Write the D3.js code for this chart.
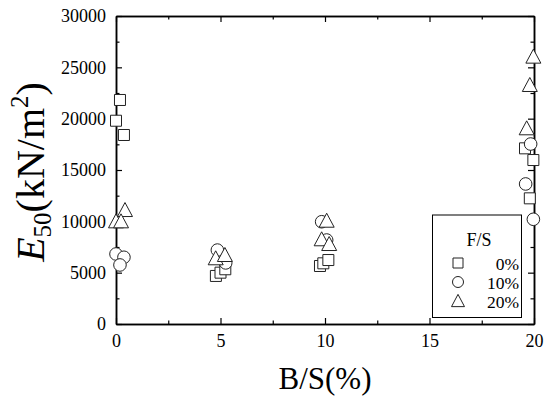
<!DOCTYPE html>
<html>
<head>
<meta charset="utf-8">
<script src="https://cdn.jsdelivr.net/npm/d3@7/dist/d3.min.js"></script>
<style>
  html, body { margin: 0; padding: 0; background: #fff; }
</style>
</head>
<body>
<svg id="chart" width="553" height="396"></svg>
<script>
// Secant modulus E50 against binder content B/S, grouped by fibre content F/S
const fsLabels = ["0%", "10%", "20%"];

const bsFs0 = [0.19, 0, 0.38, 4.78, 5.0, 5.23, 9.76, 9.92, 10.16, 19.57, 19.97, 19.8];
const e50Fs0 = [21820, 19800, 18410, 4680, 5000, 5330, 5650, 5910, 6230, 17110, 15970, 12240];

const bsFs10 = [0, 0.38, 0.19, 4.85, 5.25, 9.84, 10.08, 19.84, 19.6, 19.97];
const e50Fs10 = [6820, 6500, 5750, 7200, 5950, 9960, 8180, 17530, 13640, 10200];

const bsFs20 = [0.43, 0, 0.24, 4.77, 5.21, 10.08, 9.84, 10.2, 19.97, 19.8, 19.65];
const e50Fs20 = [11100, 10000, 10000, 6400, 6720, 10060, 8250, 7790, 26040, 23280, 19060];

const xMajor = [0, 5, 10, 15, 20];
const xMinor = [2.5, 7.5, 12.5, 17.5];
const yMajor = [0, 5000, 10000, 15000, 20000, 25000, 30000];
const yMinor = [2500, 7500, 12500, 17500, 22500, 27500];

const FONT = "Liberation Serif";

const svg = d3.select("#chart").attr("font-family", FONT);
const plotL = 116, plotR = 534, plotT = 16, plotB = 324;

const x = d3.scaleLinear().domain([0, 20]).range([plotL, plotR]);
const y = d3.scaleLinear().domain([0, 30000]).range([plotB, plotT]);

const frame = svg.append("g");

function styleAxis(g) {
  g.attr("font-family", FONT).attr("font-size", 18);
  g.select(".domain").attr("stroke", "#000").attr("stroke-width", 1.5);
  g.selectAll(".tick line").attr("stroke", "#000").attr("stroke-width", 1.2);
  g.selectAll(".tick text").attr("fill", "#000");
}

// major ticks with labels
frame.append("g").attr("transform", `translate(0,${plotB})`)
  .call(d3.axisBottom(x).tickValues(xMajor).tickFormat(d3.format("d"))
    .tickSizeInner(-6).tickSizeOuter(0).tickPadding(10))
  .call(styleAxis);
frame.append("g").attr("transform", `translate(${plotL},0)`)
  .call(d3.axisLeft(y).tickValues(yMajor).tickFormat(d3.format("d"))
    .tickSizeInner(-6).tickSizeOuter(0).tickPadding(10))
  .call(styleAxis);
// mirrored frame sides
frame.append("g").attr("transform", `translate(0,${plotT})`)
  .call(d3.axisTop(x).tickValues(xMajor).tickFormat("")
    .tickSizeInner(-6).tickSizeOuter(0))
  .call(styleAxis);
frame.append("g").attr("transform", `translate(${plotR},0)`)
  .call(d3.axisRight(y).tickValues(yMajor).tickFormat("")
    .tickSizeInner(-6).tickSizeOuter(0))
  .call(styleAxis);
// minor ticks
frame.append("g").attr("transform", `translate(0,${plotB})`)
  .call(d3.axisBottom(x).tickValues(xMinor).tickFormat("").tickSizeInner(-3.5).tickSizeOuter(0))
  .call(styleAxis);
frame.append("g").attr("transform", `translate(0,${plotT})`)
  .call(d3.axisTop(x).tickValues(xMinor).tickFormat("").tickSizeInner(-3.5).tickSizeOuter(0))
  .call(styleAxis);
frame.append("g").attr("transform", `translate(${plotL},0)`)
  .call(d3.axisLeft(y).tickValues(yMinor).tickFormat("").tickSizeInner(-3.5).tickSizeOuter(0))
  .call(styleAxis);
frame.append("g").attr("transform", `translate(${plotR},0)`)
  .call(d3.axisRight(y).tickValues(yMinor).tickFormat("").tickSizeInner(-3.5).tickSizeOuter(0))
  .call(styleAxis);

// marker shapes
function squarePath(s) { const h = s / 2; return `M${-h},${-h}H${h}V${h}H${-h}Z`; }
function trianglePath(w) { const h = w * 0.866, c = h / 2; return `M0,${-c - 1}L${w / 2},${c}L${-w / 2},${c}Z`; }

const markerStyle = (sel) => sel.attr("fill", "#fff").attr("stroke", "#222").attr("stroke-width", 1);

const points = svg.append("g");
points.selectAll("path.sq").data(d3.zip(bsFs0, e50Fs0)).join("path")
  .attr("class", "sq").attr("d", squarePath(11))
  .attr("transform", d => `translate(${x(d[0])},${y(d[1])})`).call(markerStyle);
points.selectAll("circle.ci").data(d3.zip(bsFs10, e50Fs10)).join("circle")
  .attr("class", "ci").attr("r", 6.3)
  .attr("cx", d => x(d[0])).attr("cy", d => y(d[1])).call(markerStyle);
points.selectAll("path.tr").data(d3.zip(bsFs20, e50Fs20)).join("path")
  .attr("class", "tr").attr("d", trianglePath(15))
  .attr("transform", d => `translate(${x(d[0])},${y(d[1])})`).call(markerStyle);

// legend
const lg = svg.append("g");
lg.append("rect").attr("x", 432.5).attr("y", 215).attr("width", 89).attr("height", 102.5)
  .attr("fill", "#fff").attr("stroke", "#000").attr("stroke-width", 1);
lg.append("text").attr("x", 479).attr("y", 246).attr("text-anchor", "middle")
  .attr("font-size", 18).text("F/S");
const rowY = [263, 282, 301];
const legendMarks = [
  g => g.append("path").attr("d", squarePath(10)),
  g => g.append("circle").attr("r", 5.5),
  g => g.append("path").attr("d", trianglePath(13))
];
fsLabels.forEach((lab, i) => {
  const row = lg.append("g").attr("transform", `translate(458,${rowY[i]})`);
  legendMarks[i](row).call(markerStyle);
  lg.append("text").attr("x", 519).attr("y", rowY[i] + 6.5).attr("text-anchor", "end")
    .attr("font-size", 17.5).text(lab);
});

// axis titles
svg.append("text").attr("x", (plotL + plotR) / 2).attr("y", 389).attr("text-anchor", "middle")
  .attr("font-size", 31).text("B/S(%)");

const yt = svg.append("text")
  .attr("transform", `translate(44,172) rotate(-90)`)
  .attr("text-anchor", "middle").attr("font-size", 40);
yt.append("tspan").attr("font-style", "italic").text("E");
yt.append("tspan").attr("dy", 7).attr("font-size", 25).text("50");
yt.append("tspan").attr("dy", -7).text("(kN/m");
yt.append("tspan").attr("dy", -16).attr("font-size", 25).text("2");
yt.append("tspan").attr("dy", 16).text(")");
</script>
</body>
</html>
